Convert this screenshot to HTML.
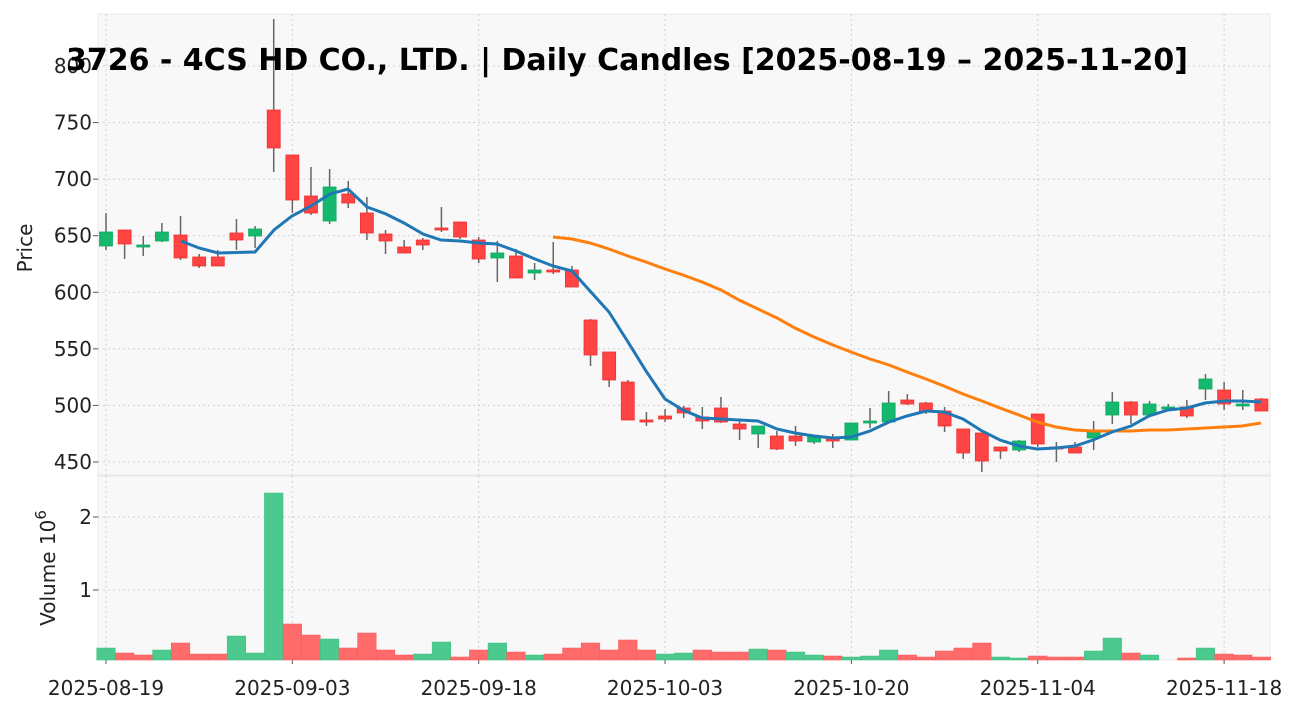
<!DOCTYPE html>
<html><head><meta charset="utf-8"><style>
body{margin:0;background:#fff;}
svg{display:block;font-family:"DejaVu Sans","Liberation Sans",sans-serif;}
</style></head><body>
<svg id="s" width="1299" height="711" xmlns="http://www.w3.org/2000/svg"></svg>
<script>
const C=[
[213,250,232,246,'g'],[230,259,230,244,'r'],[236,256,245,247,'g'],[223,242,232,241,'g'],[216,260,235,258,'r'],
[254,268,257,266,'r'],[250,266,257,266,'r'],[219,250,233,240,'r'],[226,248,229,236,'g'],[19,172,110,148,'r'],
[155,213,155,200,'r'],[167,215,196,213,'r'],[169,224,187,221,'g'],[181,208,194,203,'r'],[197,240,213,233,'r'],
[230,254,234,241,'r'],[240,253,247,253,'r'],[238,250,240,245,'r'],[207,232,228,230,'r'],[222,239,222,237,'r'],
[237,263,240,259,'r'],[241,282,253,258,'g'],[249,278,256,278,'r'],[263,280,270,273,'g'],[242,274,270,272,'r'],
[266,287,270,287,'r'],[319,366,320,355,'r'],[352,387,352,380,'r'],[380,420,382,420,'r'],[412,426,420,422,'r'],
[409,422,416,419,'r'],[406,418,408,413,'r'],[407,429,417,421,'r'],[397,423,408,422,'r'],[421,440,424,429,'r'],
[426,448,426,434,'g'],[431,450,436,449,'r'],[426,446,436,441,'r'],[435,444,437,442,'g'],[434,448,439,441,'r'],
[423,440,423,440,'g'],[408,428,421,423,'g'],[391,423,403,422,'g'],[394,405,400,404,'r'],[402,414,403,412,'r'],
[407,432,411,426,'r'],[429,459,429,453,'r'],[433,472,433,461,'r'],[447,459,447,451,'r'],[440,452,441,450,'g'],
[414,447,414,444,'r'],[442,462,447,449,'r'],[442,453,447,453,'r'],[421,450,431,438,'g'],[392,424,402,415,'g'],
[401,424,402,415,'r'],[401,417,404,415,'g'],[404,411,407,409,'g'],[400,418,407,416,'r'],[374,400,379,389,'g'],
[382,410,390,404,'r'],[390,410,404,406,'g'],[398,411,399,411,'r']];
const V=[[648,'g'],[653,'r'],[655,'r'],[650,'g'],[643,'r'],[654,'r'],[654,'r'],[636,'g'],[653,'g'],[493,'g'],
[624,'r'],[635,'r'],[639,'g'],[648,'r'],[633,'r'],[650,'r'],[655,'r'],[654,'g'],[642,'g'],[657,'r'],
[650,'r'],[643,'g'],[652,'r'],[655,'g'],[654,'r'],[648,'r'],[643,'r'],[650,'r'],[640,'r'],[650,'r'],
[654,'g'],[653,'g'],[650,'r'],[652,'r'],[652,'r'],[649,'g'],[650,'r'],[652,'g'],[655,'g'],[656,'r'],
[657,'g'],[656,'g'],[650,'g'],[655,'r'],[657,'r'],[651,'r'],[648,'r'],[643,'r'],[657,'g'],[658,'g'],
[656,'r'],[657,'r'],[657,'r'],[651,'g'],[638,'g'],[653,'r'],[655,'g'],[660,'g'],[658,'r'],[648,'g'],
[654,'r'],[655,'r'],[657,'r']];
const B=[[181,241],[199,248],[218,253],[255,252],[274,230],[292,216],[311,206],[330,194],[348,189],[367,207],[386,214],[404,223],[423,234],[441,240],[460,241],[479,243],[497,244],[516,251],[535,259],[553,266],[572,271],[590,291],[609,312],[628,342],[646,371],[665,399],[683,410],[702,418],[721,419],[739,420],[758,421],[777,429],[795,433],[814,436],[833,438],[851,437],[870,431],[889,422],[907,416],[926,411],[944,412],[963,419],[982,431],[1000,440],[1019,446],[1037,449],[1056,448],[1075,446],[1093,440],[1112,432],[1131,426],[1149,416],[1168,410],[1187,408],[1205,403],[1224,401],[1242,401],[1261,402]];
const O=[[553,237],[572,239],[590,243],[609,249],[628,256],[646,262],[665,269],[683,275],[702,282],[721,290],[739,300],[758,309],[777,318],[795,328],[814,337],[833,345],[851,352],[870,359],[889,365],[907,372],[926,379],[944,386],[963,394],[982,401],[1000,408],[1019,415],[1037,422],[1056,427],[1075,430],[1093,431],[1112,431],[1131,431],[1149,430],[1168,430],[1187,429],[1205,428],[1224,427],[1242,426],[1261,423]];
const X=i=>106+i*18.635;
let h='';
h+='<rect x="98" y="14" width="1172" height="461" fill="#f8f8f8" stroke="#e8e8e8"/>';
h+='<rect x="98" y="476" width="1172" height="184" fill="#f8f8f8" stroke="#e8e8e8"/>';
const g='stroke="#cfcfcf" stroke-dasharray="2,3" stroke-width="1"';
const dates=['2025-08-19','2025-09-03','2025-09-18','2025-10-03','2025-10-20','2025-11-04','2025-11-18'];
dates.forEach((d,k)=>{const x=X(k*10);h+=`<line x1="${x}" y1="14" x2="${x}" y2="475" ${g}/><line x1="${x}" y1="476" x2="${x}" y2="660" ${g}/><line x1="${x}" y1="660" x2="${x}" y2="664" stroke="#555"/><text x="${x}" y="695" font-size="20" text-anchor="middle" fill="#222">${d}</text>`;});
[800,750,700,650,600,550,500,450].forEach(p=>{const y=66+(800-p)*1.1314;h+=`<line x1="98" y1="${y}" x2="1270" y2="${y}" ${g}/><line x1="93" y1="${y}" x2="98" y2="${y}" stroke="#555"/><text x="92" y="${y+7}" font-size="20" text-anchor="end" fill="#222">${p}</text>`;});
[[2,517],[1,590]].forEach(([v,y])=>{h+=`<line x1="98" y1="${y}" x2="1270" y2="${y}" ${g}/><line x1="93" y1="${y}" x2="98" y2="${y}" stroke="#555"/><text x="92" y="${y+7}" font-size="20" text-anchor="end" fill="#222">${v}</text>`;});
V.forEach((v,i)=>{const x=X(i);h+=`<rect x="${x-9.3}" y="${v[0]}" width="18.6" height="${660-v[0]}" fill="${v[1]=='g'?'#4cc98e':'#ff6b6b'}" stroke="${v[1]=='g'?'#3fbf80':'#f55'}" stroke-width="0.5"/>`;});
C.forEach((c,i)=>{const x=X(i);const col=c[4]=='g'?'#16b86e':'#ff4444';h+=`<line x1="${x}" y1="${c[0]}" x2="${x}" y2="${c[1]}" stroke="#666" stroke-width="1.5"/><rect x="${x-6.5}" y="${c[2]}" width="13" height="${Math.max(2,c[3]-c[2])}" fill="${col}" stroke="${c[4]=='g'?'#10a862':'#ee3333'}" stroke-width="0.8"/>`;});
h+=`<polyline points="${O.map(p=>p.join(',')).join(' ')}" fill="none" stroke="#ff7f0e" stroke-width="3"/>`;
h+=`<polyline points="${B.map(p=>p.join(',')).join(' ')}" fill="none" stroke="#1f77b4" stroke-width="3"/>`;
h+='<text x="627" y="70" font-size="30" font-weight="bold" text-anchor="middle" fill="#000" textLength="1122" lengthAdjust="spacingAndGlyphs">3726 - 4CS HD CO., LTD. | Daily Candles [2025-08-19 – 2025-11-20]</text>';
h+='<text transform="translate(32,248) rotate(-90)" font-size="20" text-anchor="middle" fill="#222">Price</text>';
h+='<text transform="translate(55,568) rotate(-90)" font-size="20" text-anchor="middle" fill="#222">Volume  10<tspan dy="-9" font-size="15">6</tspan></text>';
document.getElementById('s').innerHTML=h;
</script>
</body></html>
